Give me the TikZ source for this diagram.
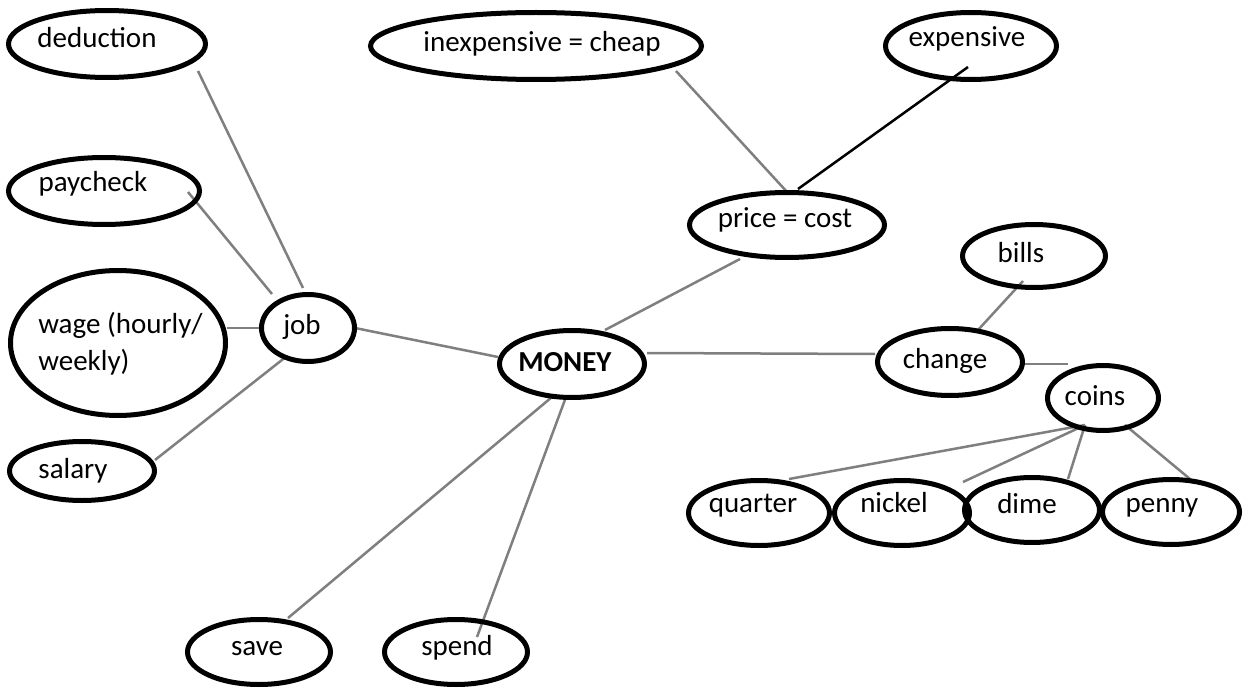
\documentclass[tikz,border=0pt]{standalone}
\usepackage{fontspec}
\setmainfont{Carlito}
\usetikzlibrary{shapes.geometric,calc,backgrounds}
\definecolor{linegray}{HTML}{7F7F7F}
\newcommand\ptxt[3]{\makebox[0pt]{\kern#1pt\raisebox{#2pt}{#3}}}
\begin{document}
\begin{tikzpicture}[x=1pt,y=-1pt,
  bub/.style={ellipse,draw=black,line width=5pt,inner sep=0pt,outer sep=0pt,
    text height=0pt,text depth=0pt,font=\fontsize{29}{37}\selectfont},
  sz/.style 2 args={minimum width=#1pt,minimum height=#2pt},
  conn/.style={draw=linegray,line width=2.5pt},
  darkconn/.style={draw=black,line width=2.5pt}]
\useasboundingbox (0,0) rectangle (1243,690);

% ---- bubbles ----
\node[bub,sz={197}{67}] (deduction) at (107,44) {\ptxt{-20}{-4}{deduction}};
\node[bub,sz={191}{67}] (paycheck) at (104,191) {\ptxt{-22}{-1}{paycheck}};
\node[bub,sz={215}{145}] (wage) at (118,343)
  {\ptxt{5}{10}{\begin{tabular}[t]{@{}l@{}}wage (hourly/\\weekly)\end{tabular}}};
\node[bub,sz={93}{67}] (job) at (308,328) {\ptxt{-12}{-6}{job}};
\node[bub,sz={145}{59}] (salary) at (82,471) {\ptxt{-18}{-7}{salary}};
\node[bub,sz={331}{67}] (inexpensive) at (536,46) {\ptxt{12}{-6}{inexpensive = cheap}};
\node[bub,sz={171}{67}] (expensive) at (971,46) {\ptxt{-8}{-1}{expensive}};
\node[bub,sz={195}{65}] (price) at (787,225) {\ptxt{-4}{-2}{price = cost}};
\node[bub,sz={145}{67}] (money) at (572,364) {\ptxt{-14}{-7}{\textbf{MONEY}}};
\node[bub,sz={143}{63}] (bills) at (1034,256) {\ptxt{-26}{-6}{bills}};
\node[bub,sz={145}{67}] (change) at (950,362) {\ptxt{-10}{-6}{change}};
\node[bub,sz={111}{65}] (coins) at (1103,398) {\ptxt{-16}{-7}{coins}};
\node[bub,sz={141}{65}] (quarter) at (759,513) {\ptxt{-12}{1}{quarter}};
\node[bub,sz={135}{65}] (nickel) at (902,513) {\ptxt{-16}{1}{nickel}};
\node[bub,sz={135}{65}] (dime) at (1032,510) {\ptxt{-10}{-3}{dime}};
\node[bub,sz={137}{65}] (penny) at (1171,512) {\ptxt{-18}{0}{penny}};
\node[bub,sz={143}{65}] (save) at (259,652) {\ptxt{-4}{-3}{save}};
\node[bub,sz={143}{65}] (spend) at (456,652) {\ptxt{2}{-3}{spend}};

% free ends
\coordinate (coinsstub) at ($(change)+(118,2)$);
\coordinate (nickelend) at ($(nickel)+(61,-31)$);

% ---- connectors ----
\begin{scope}[on background layer]
\fill[white] (0,0) rectangle (1243,690);
\draw[conn] ($(deduction)+(91,27)$) -- ($(job)+(-5,-40)$);
\draw[conn] ($(paycheck)+(84,1)$) -- ($(job)+(-36,-34)$);
\draw[conn] ($(wage)+(109,-15)$) -- ($(job)+(-46,0)$);
\draw[conn] ($(salary)+(73,-11)$) -- ($(job)+(-21,28)$);
\draw[conn] ($(job)+(47,0)$) -- ($(money)+(-74,-7)$);
\draw[conn] ($(money)+(33,-34)$) -- ($(price)+(-47,34)$);
\draw[conn] ($(inexpensive)+(140,25)$) -- ($(price)+(1,-32)$);
\draw[darkconn] ($(expensive)+(-3,21)$) -- ($(price)+(11,-36)$);
\draw[conn] ($(money)+(75,-11)$) -- ($(change)+(-75,-8)$);
\draw[conn] ($(bills)+(-11,25)$) -- ($(change)+(28,-32)$);
\draw[conn] ($(change)+(74,2)$) -- (coinsstub);
\draw[conn] ($(money)+(-20,33)$) -- ($(save)+(29,-34)$);
\draw[conn] ($(money)+(-6,33)$) -- ($(spend)+(21,-15)$);
\draw[conn] ($(coins)+(-18,27)$) -- ($(quarter)+(30,-34)$);
\draw[conn] ($(coins)+(-18,27)$) -- (nickelend);
\draw[conn] ($(coins)+(-18,27)$) -- ($(dime)+(36,-31)$);
\draw[conn] ($(coins)+(22,27)$) -- ($(penny)+(19,-33)$);
\end{scope}
\end{tikzpicture}
\end{document}
